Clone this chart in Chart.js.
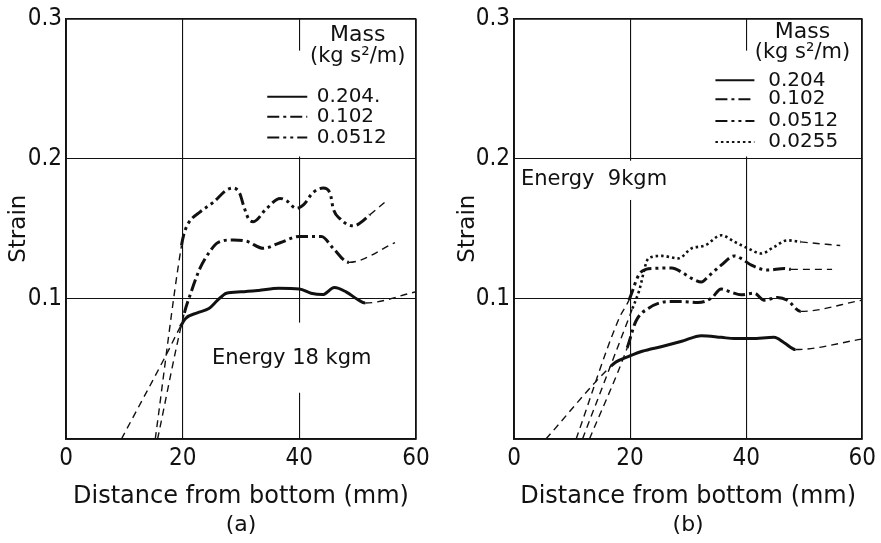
<!DOCTYPE html>
<html lang="en">
<head>
<meta charset="UTF-8">
<title>Strain vs distance from bottom</title>
<script src="https://cdn.jsdelivr.net/npm/chart.js"></script>
<style>
    body { margin: 0; background: #fff; }
    .wrap { position: relative; width: 881px; height: 543px; }
    #chartA { position: absolute; left: 0; top: 0; }
    #chartB { position: absolute; left: 445px; top: 0; }
</style>
</head>
<body>
<div class="wrap">
    <canvas id="chartA" width="440" height="543"></canvas>
    <canvas id="chartB" width="436" height="543"></canvas>
</div>
<script>
// ---- panel (a): energy 18 kgm ----
const a204X = [9.5, 17.3, 19.6, 20.5, 22.5, 24.5, 26, 27.5, 30, 33, 36.5, 40, 42, 44, 46, 48, 50, 51.3, 60];
const a204Y = [0, 0.061, 0.08, 0.086, 0.09, 0.093, 0.099, 0.104, 0.105, 0.106, 0.1075, 0.107, 0.104, 0.103, 0.108, 0.105, 0.0995, 0.097, 0.105];
const a102X = [15.7, 20.3, 21.3, 23, 24.7, 26, 28.7, 31, 33.8, 36.7, 40, 43.8, 45.8, 48.5, 56.4];
const a102Y = [0, 0.09, 0.103, 0.122, 0.134, 0.14, 0.142, 0.141, 0.136, 0.14, 0.1445, 0.1445, 0.136, 0.126, 0.14];
const a0512X = [15.3, 19.8, 20.2, 21, 23, 25.3, 27.5, 28.7, 29.8, 30.4, 31.3, 32.1, 34.4, 36.7, 37.8, 39.5, 40.7, 42.4, 44.1, 45.3, 45.8, 47, 49.3, 50.4, 52.1, 54.7];
const a0512Y = [0, 0.138, 0.146, 0.154, 0.162, 0.169, 0.1775, 0.179, 0.175, 0.167, 0.157, 0.155, 0.1645, 0.1716, 0.17, 0.1645, 0.167, 0.176, 0.179, 0.175, 0.1645, 0.157, 0.152, 0.154, 0.16, 0.169];

// ---- panel (b): energy 9 kgm ----
const b204X = [5.5, 16.7, 17.6, 19.8, 22.1, 25.5, 28.9, 32.3, 35.7, 38, 40.9, 44.8, 46.6, 48.5, 60];
const b204Y = [0, 0.052, 0.055, 0.059, 0.0626, 0.066, 0.0697, 0.0737, 0.0725, 0.0716, 0.0716, 0.0725, 0.0685, 0.0638, 0.0713];
const b102X = [13, 19.5, 21, 23.2, 26.6, 28.9, 31.7, 34, 35.7, 37.4, 39.1, 41.4, 43.1, 45.4, 47.1, 49.4, 59.9];
const b102Y = [0, 0.065, 0.084, 0.0933, 0.098, 0.098, 0.0973, 0.1004, 0.107, 0.1047, 0.1028, 0.104, 0.099, 0.101, 0.099, 0.091, 0.099];
const b0512X = [10.7, 18.1, 19.8, 21.5, 22.7, 24.3, 27.2, 28.9, 30.6, 32.3, 33.5, 35.7, 38, 39.1, 40.9, 43.7, 46.6, 47.7, 54.8];
const b0512Y = [0, 0.086, 0.099, 0.117, 0.121, 0.1217, 0.122, 0.119, 0.1146, 0.112, 0.116, 0.124, 0.1306, 0.1288, 0.124, 0.1205, 0.1217, 0.121, 0.121];
const b0255X = [11.8, 20.4, 21.5, 23.2, 25.5, 28.3, 30.6, 32.9, 35.7, 38, 40.3, 42.6, 44.8, 47.1, 49.4, 56.2];
const b0255Y = [0, 0.093, 0.105, 0.129, 0.1306, 0.1288, 0.136, 0.138, 0.1453, 0.1406, 0.136, 0.1323, 0.137, 0.1417, 0.1406, 0.138];

const massLabelsA = ['0.204.', '0.102', '0.0512'];
const massLabelsB = ['0.204', '0.102', '0.0512', '0.0255'];
const xTicks = [0, 20, 40, 60];
const yTicks = [0.1, 0.2, 0.3];

const INK = '#111';
const TICK_FONT = { family: '"DejaVu Sans Condensed", "DejaVu Sans"', size: 24 };

// lead = last index of the dashed start, tail = first index of the dashed end
function makeSet(label, xs, ys, lead, tail, dash, width) {
    const extra = c => c.p1DataIndex <= lead || c.p0DataIndex >= tail;
    return {
        label: label,
        data: xs.map((x, i) => ({ x: x, y: ys[i] })),
        borderColor: INK,
        borderWidth: width,
        borderDash: dash,
        borderCapStyle: 'butt',
        pointRadius: 0,
        fill: false,
        cubicInterpolationMode: 'monotone',
        segment: {
            borderDash: c => extra(c) ? [7, 5] : undefined,
            borderWidth: c => extra(c) ? 1.4 : undefined
        }
    };
}

// legend, label boxes and white gaps in the grid
const panelNotes = {
    id: 'panelNotes',
    beforeDatasetsDraw(chart, args, o) {
        const { ctx, scales: { x, y } } = chart;
        ctx.save();
        ctx.fillStyle = '#fff';
        o.masks.forEach(m => {
            const x0 = x.getPixelForValue(m[0]), x1 = x.getPixelForValue(m[1]);
            const y0 = y.getPixelForValue(m[3]), y1 = y.getPixelForValue(m[2]);
            ctx.fillRect(x0, y0, x1 - x0, y1 - y0);
        });
        ctx.fillStyle = INK;
        ctx.textBaseline = 'middle';
        ctx.textAlign = 'center';
        ctx.font = '22px "DejaVu Sans"';
        ctx.fillText('Mass', x.getPixelForValue(o.headX), y.getPixelForValue(o.headY[0]));
        ctx.font = '21px "DejaVu Sans"';
        ctx.fillText('(kg s\u00B2/m)', x.getPixelForValue(o.headX), y.getPixelForValue(o.headY[1]));

        ctx.textAlign = 'left';
        ctx.font = '20px "DejaVu Sans"';
        const sx = x.getPixelForValue(o.sampleX);
        chart.data.datasets.forEach((ds, i) => {
            const py = y.getPixelForValue(o.rowY[i]);
            ctx.save();
            ctx.strokeStyle = INK;
            ctx.lineWidth = 2;
            ctx.setLineDash(ds.borderDash || []);
            ctx.beginPath();
            ctx.moveTo(sx, py);
            ctx.lineTo(sx + o.sampleLen, py);
            ctx.stroke();
            ctx.restore();
            ctx.fillText(ds.label, x.getPixelForValue(o.labelX), py);
        });

        ctx.font = '21px "DejaVu Sans"';
        ctx.textAlign = o.energy.align;
        ctx.fillText(o.energy.text, x.getPixelForValue(o.energy.x), y.getPixelForValue(o.energy.y));
        ctx.restore();
    }
};

function makeOptions(yAxisWidth, padRight, strainPad, caption, notes) {
    const edgeW = (c, hi) => (c.tick && (c.tick.value <= 0.0001 || c.tick.value >= hi)) ? 1.8 : 1.1;
    return {
        responsive: false,
        animation: false,
        devicePixelRatio: 1,
        layout: { padding: { top: 15, right: padRight, bottom: 5, left: 0 } },
        scales: {
            x: {
                type: 'linear', min: 0, max: 60,
                afterBuildTicks: s => { s.ticks = xTicks.map(v => ({ value: v })); },
                afterFit: s => { s.height = 72.6; },
                grid: { color: INK, lineWidth: c => edgeW(c, 59.9), drawTicks: false },
                border: { display: true, color: INK, width: 1.8 },
                ticks: { color: INK, font: TICK_FONT, padding: 5, maxRotation: 0 },
                title: {
                    display: true, text: 'Distance from bottom (mm)', color: INK,
                    font: { family: '"DejaVu Sans"', size: 24 }, padding: { top: 0, bottom: 0 }
                }
            },
            y: {
                type: 'linear', min: 0, max: 0.3,
                afterBuildTicks: s => { s.ticks = [0].concat(yTicks).map(v => ({ value: v })); },
                afterFit: s => { s.width = yAxisWidth; },
                grid: { color: INK, lineWidth: c => edgeW(c, 0.299), drawTicks: false },
                border: { display: true, color: INK, width: 1.8 },
                ticks: { color: INK, font: TICK_FONT, padding: 4, callback: v => v === 0 ? '' : v.toFixed(1) },
                title: {
                    display: true, text: 'Strain', color: INK,
                    font: { family: '"DejaVu Sans"', size: 23 }, padding: { top: strainPad, bottom: 0 }
                }
            }
        },
        plugins: {
            legend: { display: false },
            tooltip: { enabled: false },
            title: {
                display: true, position: 'bottom', text: caption, color: INK, fullSize: false,
                font: { family: '"DejaVu Sans"', size: 22, weight: 'normal' }, padding: 0
            },
            panelNotes: notes
        }
    };
}

new Chart(document.getElementById('chartA'), {
    type: 'line',
    data: {
        datasets: [
            makeSet(massLabelsA[0], a204X, a204Y, 2, 17, [], 3),
            makeSet(massLabelsA[1], a102X, a102Y, 1, 13, [12, 4, 3, 4], 3),
            makeSet(massLabelsA[2], a0512X, a0512Y, 1, 24, [12, 4, 3, 4, 3, 4], 3)
        ]
    },
    options: makeOptions(66, 24, 5, '(a)', {
        masks: [[33.5, 59.7, 0.2015, 0.277], [23.8, 53.5, 0.033, 0.083]],
        headX: 50, headY: [0.288, 0.273],
        sampleX: 34.5, sampleLen: 40, labelX: 43, rowY: [0.2442, 0.2298, 0.2151],
        energy: { text: 'Energy 18 kgm', x: 38.7, y: 0.0573, align: 'center' }
    }),
    plugins: [panelNotes]
});

new Chart(document.getElementById('chartB'), {
    type: 'line',
    data: {
        datasets: [
            makeSet(massLabelsB[0], b204X, b204Y, 1, 13, [], 3),
            makeSet(massLabelsB[1], b102X, b102Y, 1, 15, [12, 4, 3, 4], 3),
            makeSet(massLabelsB[2], b0512X, b0512Y, 2, 17, [12, 4, 3, 4, 3, 4], 3),
            makeSet(massLabelsB[3], b0255X, b0255Y, 1, 14, [2.5, 3], 2.6)
        ]
    },
    options: makeOptions(69, 16, 9, '(b)', {
        masks: [[33.8, 59.7, 0.2015, 0.277], [0.5, 27, 0.1705, 0.1985]],
        headX: 49.7, headY: [0.2899, 0.2757],
        sampleX: 34.7, sampleLen: 39, labelX: 43.8, rowY: [0.2558, 0.2424, 0.2268, 0.2119],
        energy: { text: 'Energy  9kgm', x: 1.2, y: 0.185, align: 'left' }
    }),
    plugins: [panelNotes]
});
</script>
</body>
</html>
